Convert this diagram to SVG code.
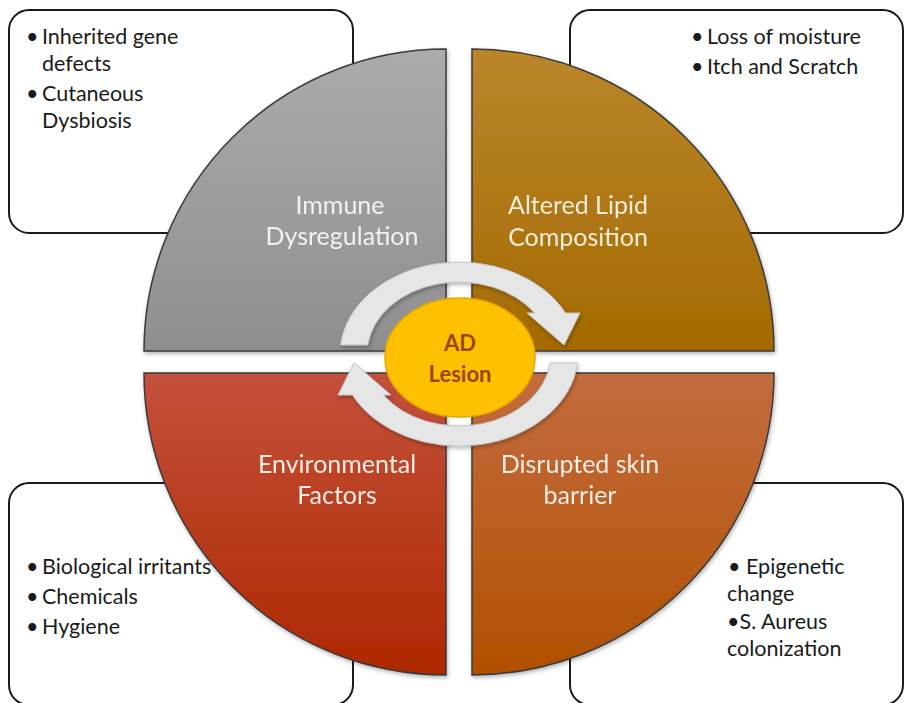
<svg xmlns="http://www.w3.org/2000/svg" width="905" height="703" viewBox="0 0 905 703">
<defs>
<style>
.box{fill:#fff;stroke:#1a1a1a;stroke-width:2}
.q{stroke:#3a3a3a;stroke-width:1.5}
.bt{font-family:Lato,"Open Sans","Liberation Sans",sans-serif;font-size:21.5px;fill:#1a1a1a}
.qt{font-family:Lato,"Open Sans","Liberation Sans",sans-serif;font-size:25px;text-anchor:middle}
.ct{font-family:Lato,"Open Sans","Liberation Sans",sans-serif;font-size:22px;font-weight:bold;fill:#9c4618;text-anchor:middle}
.arr{fill:#e6e6e6;stroke:#c4c4c4;stroke-width:1}
</style>
<linearGradient id="gTL" x1="0" y1="0" x2="0" y2="1"><stop offset="0" stop-color="#ababab"/><stop offset="1" stop-color="#8f8f8f"/></linearGradient>
<linearGradient id="gTR" x1="0" y1="0" x2="0" y2="1"><stop offset="0" stop-color="#bb862c"/><stop offset="1" stop-color="#a46a00"/></linearGradient>
<linearGradient id="gBL" x1="0" y1="0" x2="0" y2="1"><stop offset="0" stop-color="#c4513c"/><stop offset="1" stop-color="#ae2800"/></linearGradient>
<linearGradient id="gBR" x1="0" y1="0" x2="0" y2="1"><stop offset="0" stop-color="#c46c40"/><stop offset="1" stop-color="#b05000"/></linearGradient>
<filter id="sh" x="-10%" y="-10%" width="120%" height="120%"><feDropShadow dx="1" dy="2" stdDeviation="2" flood-color="#000" flood-opacity="0.3"/></filter>
<path id="arrow" d="M 340.6,345 A 119 92 0 0 1 565.5,313 L 580,313 L 564,345 L 527,313 L 534.6,313 A 92 72 0 0 0 367.7,345 Z"/>
</defs>
<rect width="905" height="703" fill="#fff"/>
<g id="box-tl"><rect class="box" x="9" y="10" width="344" height="223" rx="20"/>
<text class="bt"><tspan x="26" y="44">•</tspan><tspan x="42" y="44">Inherited gene</tspan><tspan x="42" y="71">defects</tspan><tspan x="26" y="101">•</tspan><tspan x="42" y="101">Cutaneous</tspan><tspan x="42" y="128">Dysbiosis</tspan></text></g>
<g id="box-tr"><rect class="box" x="570" y="10" width="333" height="223" rx="20"/>
<text class="bt"><tspan x="691" y="44">•</tspan><tspan x="707" y="44">Loss of moisture</tspan><tspan x="691" y="74">•</tspan><tspan x="707" y="74">Itch and Scratch</tspan></text></g>
<g id="box-bl"><rect class="box" x="9" y="483" width="344" height="222" rx="20"/>
<text class="bt"><tspan x="26" y="574">•</tspan><tspan x="42" y="574">Biological irritants</tspan><tspan x="26" y="604">•</tspan><tspan x="42" y="604">Chemicals</tspan><tspan x="26" y="634">•</tspan><tspan x="42" y="634">Hygiene</tspan></text></g>
<g id="box-br"><rect class="box" x="570" y="483" width="333" height="222" rx="20"/>
<text class="bt"><tspan x="728" y="574">• Epigenetic</tspan><tspan x="727" y="601">change</tspan><tspan x="727" y="629">•S. Aureus</tspan><tspan x="727" y="656">colonization</tspan></text></g>
<g id="q-immune" filter="url(#sh)"><path class="q" fill="url(#gTL)" d="M 446,351 L 144,351 A 302 302 0 0 1 446,49 Z"/>
<text class="qt" fill="#f2f2f2"><tspan x="340" y="214">Immune</tspan><tspan x="342" y="245">Dysregulation</tspan></text></g>
<g id="q-lipid" filter="url(#sh)"><path class="q" fill="url(#gTR)" d="M 472,351 L 472,49 A 302 302 0 0 1 774,351 Z"/>
<text class="qt" fill="#fbeedc"><tspan x="578" y="214">Altered Lipid</tspan><tspan x="578" y="246">Composition</tspan></text></g>
<g id="q-env" filter="url(#sh)"><path class="q" fill="url(#gBL)" d="M 446,373 L 446,675 A 302 302 0 0 1 144,373 Z"/>
<text class="qt" fill="#fbeee6"><tspan x="337" y="473">Environmental</tspan><tspan x="337" y="504">Factors</tspan></text></g>
<g id="q-barrier" filter="url(#sh)"><path class="q" fill="url(#gBR)" d="M 472,373 L 774,373 A 302 302 0 0 1 472,675 Z"/>
<text class="qt" fill="#fbeee6"><tspan x="580" y="473">Disrupted skin</tspan><tspan x="580" y="504">barrier</tspan></text></g>
<g id="connectors" filter="url(#sh)">
<use href="#arrow" class="arr"/>
<use href="#arrow" class="arr" transform="rotate(180 459 354)"/>
</g>
<g id="ad-lesion"><ellipse cx="460" cy="357.5" rx="75" ry="59.5" fill="#ffc000" stroke="#e3a800" stroke-width="1.5"/>
<text class="ct"><tspan x="460" y="351">AD</tspan><tspan x="460" y="382">Lesion</tspan></text></g>
</svg>
